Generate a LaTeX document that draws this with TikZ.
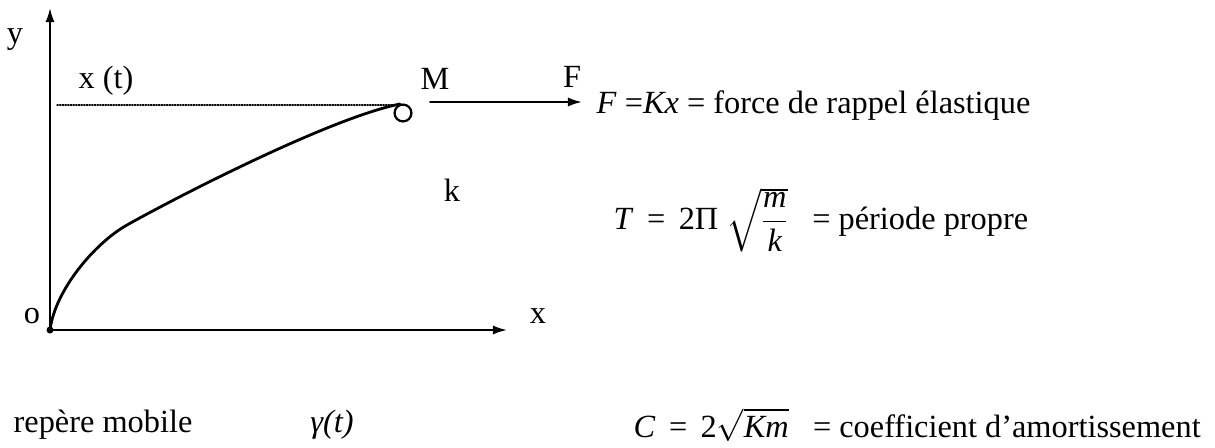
\RequirePackage{fix-cm}
\documentclass[tikz,border=0pt]{standalone}
\usepackage{amsmath}
\usepackage{fontspec}
\setmainfont{Liberation Serif}
\usetikzlibrary{arrows.meta,positioning}
\tikzset{
  axe/.style={-{Latex[length=10pt,width=6.5pt]},line width=1.4pt},
  traj/.style={line width=2pt},
  lbl/.style={inner sep=1pt,font=\fontsize{23}{27}\selectfont},
  eqn/.style={anchor=west,inner sep=1pt,font=\fontsize{23}{27}\selectfont},
}
\begin{document}
\begin{tikzpicture}[x=0.025cm,y=-0.025cm,line cap=round,line join=round]
 \useasboundingbox (0,0) rectangle (1215,447);
 % Repère mobile : les deux axes.
 \coordinate (O) at (50,330);
 \coordinate (ytip) at (50,8);
 \coordinate (xtip) at (507,330);
 \draw[axe] (O) -- (ytip);
 \draw[axe] (O) -- (xtip);
 \node[lbl] (ylab) at (15,40) {y};
 \node[lbl] (olab) at (32,316) {o};
 \node[lbl] (xlab) at (538,316) {x};
 % Trajectoire jusqu'à la masse M.
 \coordinate (mid) at (127,225);
 \coordinate (Mtop) at (400,104);
 \draw[traj] (O) .. controls (55,290) and (95,243) .. (mid)
  .. controls (175,198) and (330,118) .. (Mtop);
 \fill (O) circle (3.5);
 \node[draw,circle,line width=1.6pt,minimum size=12pt,inner sep=0pt]
  (masse) at (403,113) {};
 \coordinate (xt0) at (57,105);
 \coordinate (xt1) at (404,105);
 \draw[densely dotted,line width=0.9pt] (xt0) -- (xt1);
 \node[lbl] (xt) at (106,81) {x (t)};
 \node[lbl] (Mlab) at (435,79) {M};
 \node[lbl] (klab) at (452,190) {k};
 % Force de rappel.
 \coordinate (F0) at (430,102);
 \coordinate (F1) at (582,102);
 \draw[axe] (F0) -- (F1);
 \node[lbl] (Flab) at (572,77) {F};
 \node[eqn] (rappel) at (595,106)
  {\textit{F} =\textit{Kx} = force de rappel élastique};
 \node[eqn] (periode) at (612,220)
  {\textit{T} \,=\, 2Π $\sqrt{\dfrac{\textit{m}}{\textit{k}}}$ \ \ = période propre};
 % Légende du bas.
 \node[lbl,anchor=west] (repere) at (12,425) {repère mobile};
 \node[lbl] (gamma) at (332,425) {\textit{γ(t)}};
 \node[eqn] (amort) at (632,425)
  {\textit{C} \,=\, 2$\sqrt{\textit{Km}}$ \ \ = coefficient d’amortissement};
\end{tikzpicture}
\end{document}
